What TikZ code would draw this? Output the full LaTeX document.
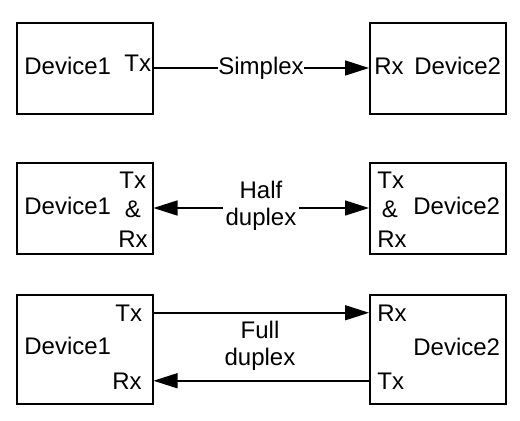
\documentclass[tikz,border=0pt]{standalone}
\usepackage{fontspec}
\setmainfont{Liberation Sans}
\usetikzlibrary{arrows.meta,positioning}
\tikzset{
  devbox/.style={draw,line width=1pt,minimum width=68pt,minimum height=45.5pt,inner sep=0pt},
  lbl/.style={inner sep=0pt,font=\fontsize{12}{14}\selectfont},
  link/.style={line width=0.75pt},
  tip/.style={-{Triangle[length=12pt,width=7.5pt]}}
}
\begin{document}
\begin{tikzpicture}[x=0.5pt,y=0.5pt]
  \useasboundingbox (0,0) rectangle (520,420);
  % simplex
  \node[devbox] (b1a) at (84.5,352) {};
  \node[devbox] (b2a) at (438,352) {};
  \node[lbl,anchor=base west] (d1a) at (24,346) {Device1};
  \node[lbl,anchor=base west] (t1a) at (124,349) {Tx};
  \node[lbl,anchor=base west] (r2a) at (374,346) {Rx};
  \node[lbl,anchor=base west] (d2a) at (414,346) {Device2};
  \node[lbl,anchor=base west] (sim) at (218,346) {Simplex};
  \draw[link] (b1a.east) -- (sim.west |- b1a.east);
  \draw[link,tip] (sim.east |- b1a.east) -- (b2a.west);
  % half duplex
  \node[devbox] (b1b) at (84.5,212) {};
  \node[devbox] (b2b) at (438,212) {};
  \node[lbl,anchor=base west] (d1b) at (24,206) {Device1};
  \node[lbl,anchor=base west] (t1b) at (119,232) {Tx};
  \node[lbl,anchor=base] (a1b) at (133,203) {\&};
  \node[lbl,anchor=base west] (r1b) at (118,173) {Rx};
  \node[lbl,anchor=base west] (t2b) at (377,232) {Tx};
  \node[lbl,anchor=base] (a2b) at (390,203) {\&};
  \node[lbl,anchor=base west] (r2b) at (377,173) {Rx};
  \node[lbl,anchor=base west] (d2b) at (413,206) {Device2};
  \node[lbl,anchor=base] (hlf) at (261,222) {Half};
  \node[lbl,anchor=base,inner xsep=1pt] (hdx) at (261,195) {duplex};
  \draw[link,tip] (hdx.west |- b1b.east) -- (b1b.east);
  \draw[link,tip] (hdx.east |- b2b.west) -- (b2b.west);
  % full duplex
  \node[devbox,minimum height=54.5pt] (b1c) at (84.5,71) {};
  \node[devbox,minimum height=54.5pt] (b2c) at (438,71) {};
  \node[lbl,anchor=base west] (d1c) at (24,66) {Device1};
  \node[lbl,anchor=base west] (t1c) at (115,99) {Tx};
  \node[lbl,anchor=base west] (r1c) at (112,31) {Rx};
  \node[lbl,anchor=base west] (r2c) at (377,99) {Rx};
  \node[lbl,anchor=base west] (t2c) at (377,31) {Tx};
  \node[lbl,anchor=base west] (d2c) at (413,65) {Device2};
  \node[lbl,anchor=base] (ful) at (260,82) {Full};
  \node[lbl,anchor=base] (fdx) at (260,55) {duplex};
  \draw[link,tip] (t1c -| b1c.east) -- (t1c -| b2c.west);
  \draw[link,tip] (r1c -| b2c.west) -- (r1c -| b1c.east);
\end{tikzpicture}
\end{document}
